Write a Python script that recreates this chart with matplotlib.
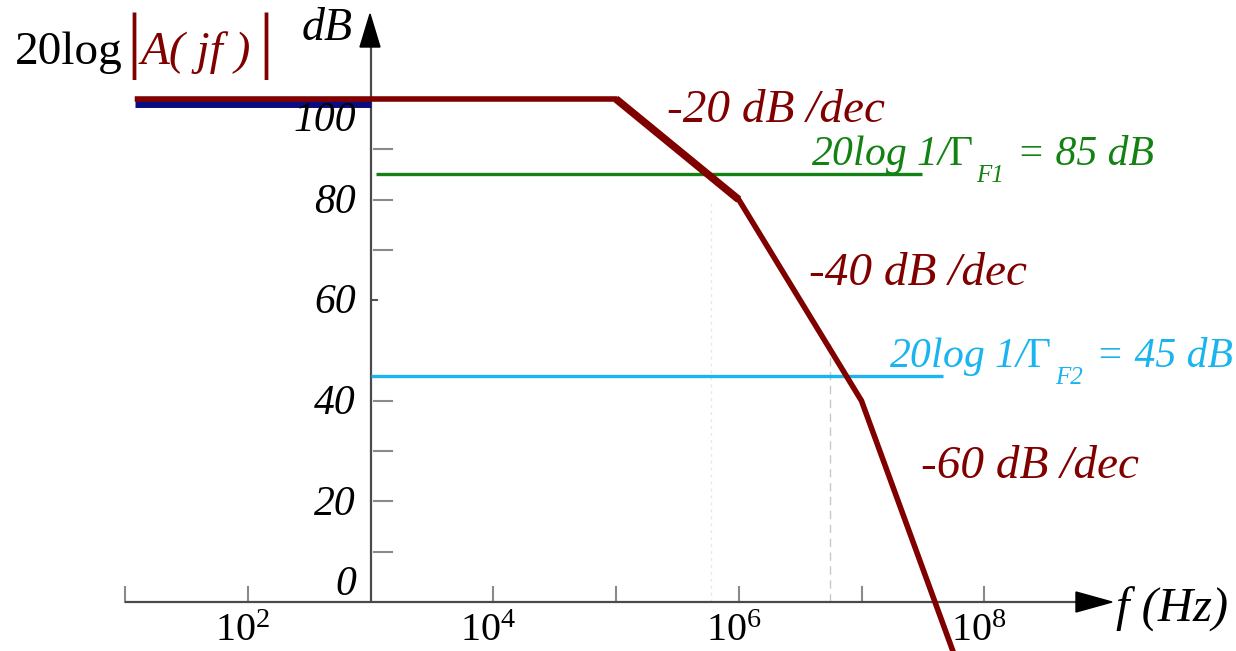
import numpy as np
import matplotlib
matplotlib.use("Agg")
import matplotlib.pyplot as plt
from matplotlib.patches import Polygon

plt.rcParams['mathtext.fontset'] = 'custom'
plt.rcParams['mathtext.rm'] = 'Liberation Serif'
plt.rcParams['mathtext.it'] = 'Liberation Serif:italic'
plt.rcParams['mathtext.bf'] = 'Liberation Serif:bold'

# ---------------- data ----------------
gain_freq = [12, 1e5, 1e6, 1e7, 5.6e7]          # Hz, break points of |A(jf)|
gain_db = [100, 100, 80, 40, -10]               # dB
dc_freq = [12, 1e3]                              # navy dc segment
dc_db = [99.1, 99.1]
beta1_freq = [1.1e3, 3.1e7]
beta1_db = [85, 85]
beta2_freq = [1e3, 4.6e7]
beta2_db = [45, 45]
x_tick_exp = [1, 2, 4, 5, 6, 7, 8]
x_label_exp = [2, 4, 6, 8]
y_tick_vals = [10, 20, 30, 40, 70, 80, 90]
y_label_vals = [0, 20, 40, 60, 80, 100]
slope_labels = ["-20 dB /dec", "-40 dB /dec", "-60 dB /dec"]

RED = '#800000'
GREEN = '#128212'
LBLUE = '#1ab4ee'
NAVY = '#0b0b80'
AXC = '#4a4a4a'

W, H = 1236, 651
fig = plt.figure(figsize=(W / 100, H / 100), dpi=100)
ax = fig.add_axes([0, 0, 1, 1])
ax.set_xscale('log')
# pixel mapping: x = 370.5 + (log f - 3)*122.75 ; y = 602 - dB*5.03
dec = 122.75
x0 = 370.5
ax.set_xlim(10 ** (3 - x0 / dec), 10 ** (3 + (W - x0) / dec))
ax.set_ylim(-(H - 602) / 5.03, 602 / 5.03)
ax.set_axis_off()

def P(xp, yp):
    return xp / W, 1 - yp / H

def fx(xp):
    return 10 ** (3 + (xp - x0) / dec)

def fy(yp):
    return (602 - yp) / 5.03

ser = ['Liberation Serif', 'DejaVu Serif']

# faint guide lines
ax.plot([10 ** 6.745, 10 ** 6.745], [0, 52], color='#c8c8c8', lw=1, ls=(0, (6, 4)), zorder=1)
ax.plot([10 ** 5.77, 10 ** 5.77], [0, 80], color='#e6e6e6', lw=1, ls=(0, (2, 3)), zorder=1)

# axes lines
ax.plot([fx(125), fx(1082)], [0, 0], color=AXC, lw=1.6, zorder=3, solid_capstyle='butt')
ax.plot([1e3, 1e3], [0, fy(46)], color=AXC, lw=1.6, zorder=3, solid_capstyle='butt')
# arrow heads
fig.patches.append(Polygon([P(1076, 592), P(1112, 602), P(1076, 612)], closed=True,
                           transform=fig.transFigure, color='black', zorder=5))
fig.patches.append(Polygon([P(360, 47), P(370, 14), P(380, 47)], closed=True,
                           transform=fig.transFigure, color='black', zorder=5))

# ticks
for e in x_tick_exp:
    ax.plot([10 ** e, 10 ** e], [0, 3.0], color='#8a8a8a', lw=1.5, zorder=2)
for v in y_tick_vals:
    ax.plot([fx(374), fx(392)], [v, v], color='#8a8a8a', lw=1.5, zorder=2)
ax.plot([fx(372), fx(377)], [60, 60], color='#555555', lw=1.5, zorder=2)

# horizontal feedback lines
ax.plot(beta1_freq, beta1_db, color=GREEN, lw=2.4, zorder=4, solid_capstyle='butt')
ax.plot(beta2_freq, beta2_db, color=LBLUE, lw=2.4, zorder=4, solid_capstyle='butt')
ax.plot(dc_freq, dc_db, color=NAVY, lw=5, zorder=5, solid_capstyle='butt')

# open-loop gain
ax.plot(gain_freq, gain_db, color=RED, lw=4, zorder=6, solid_joinstyle='miter', solid_capstyle='butt')
ax.plot(gain_freq[1:3], gain_db[1:3], color=RED, lw=5.5, zorder=6, solid_capstyle='butt')

# y labels
for v in y_label_vals:
    off = {0: 3.4, 100: -4.4}.get(v, -0.6)
    fig.text(*P(356, 602 - (v + off) * 5.03), str(v), fontsize=30, style='italic', family=ser,
             ha='right', va='center', color='black')

# x labels
for e in x_label_exp:
    xp = x0 + (e - 3) * dec
    fig.text(*P(xp - 5, 650), r'$\mathrm{10}^{%d}$' % e, fontsize=29, family=ser,
             ha='center', va='bottom', color='black')

# axis titles
fig.text(*P(302, 40), 'dB', fontsize=33, style='italic', family=ser, va='baseline', color='black')
fig.text(*P(1116, 622), 'f (Hz)', fontsize=35, style='italic', family=ser, va='baseline', color='black')

fig.text(*P(15, 64), '20log', fontsize=34, family=ser, va='baseline', color='black')
fig.text(*P(126, 64), '|', fontsize=54, family=ser, va='baseline', color=RED)
fig.text(*P(141, 64), 'A( jf )', fontsize=34, style='italic', family=ser, va='baseline', color=RED)
fig.text(*P(258, 64), '|', fontsize=54, family=ser, va='baseline', color=RED)

# slope labels
fig.text(*P(667, 122), slope_labels[0], fontsize=34, style='italic', family=ser, va='baseline', color=RED)
fig.text(*P(809, 285), slope_labels[1], fontsize=34, style='italic', family=ser, va='baseline', color=RED)
fig.text(*P(921, 478), slope_labels[2], fontsize=34, style='italic', family=ser, va='baseline', color=RED)

# feedback labels (main text, lowered subscript, remainder)
for (xa, xs, xb, yb, sub, rest, col) in [(811, 976, 1017, 165, 'F1', '= 85 dB', GREEN),
                                          (889, 1055, 1096, 367, 'F2', '= 45 dB', LBLUE)]:
    fig.text(*P(xa, yb), r'20log 1/$\Gamma$', fontsize=30, style='italic', family=ser,
             va='baseline', color=col)
    fig.text(*P(xs, yb + 17), sub, fontsize=18, style='italic', family=ser,
             va='baseline', color=col)
    fig.text(*P(xb, yb), rest, fontsize=30, style='italic', family=ser,
             va='baseline', color=col)

fig.savefig('out.png', dpi=100, facecolor='white')
